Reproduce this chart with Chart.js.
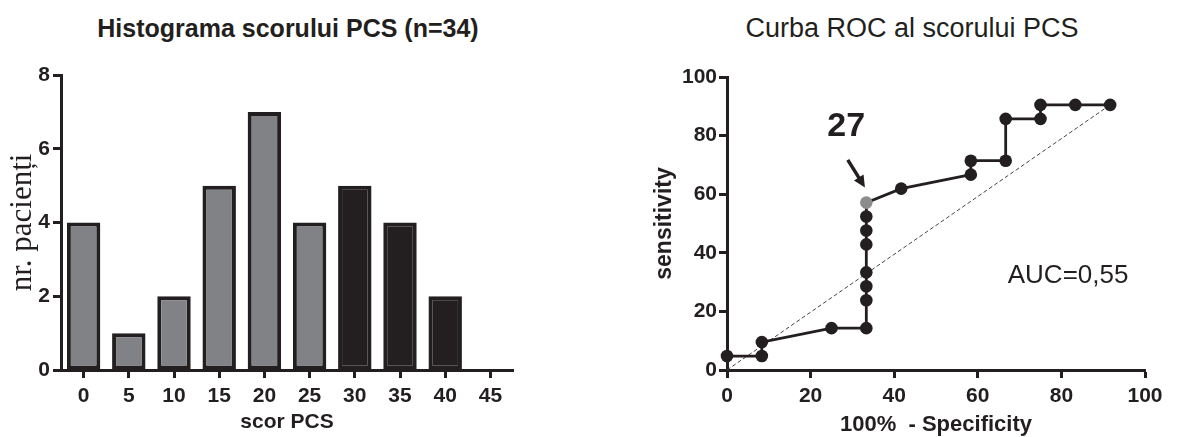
<!DOCTYPE html>
<html><head><meta charset="utf-8">
<script src="https://cdn.jsdelivr.net/npm/chart.js@4"></script>
<style>
html,body{margin:0;padding:0;background:#fff;width:1186px;height:437px;overflow:hidden;position:relative;font-family:'Liberation Sans',Arial,sans-serif;}
.ttl{position:absolute;top:0;height:56px;line-height:56px;color:#231f20;white-space:nowrap;transform:translateX(-50%);}
#t1{left:288px;font-weight:bold;font-size:25px;}
#t2{left:912px;font-size:27px;}
#c1{position:absolute;left:0;top:0;}
#c2{position:absolute;left:600px;top:0;}
</style></head>
<body>
<div class="ttl" id="t1">Histograma scorului PCS (n=34)</div>
<div class="ttl" id="t2">Curba ROC al scorului PCS</div>
<canvas id="c1" width="580" height="437"></canvas>
<canvas id="c2" width="586" height="437"></canvas>
<script>
// ---- data ----
const histCategories = ['0','5','10','15','20','25','30','35','40','45'];
const histCounts = [4, 1, 2, 5, 7, 4, 5, 4, 2, 0];
const histGroup = ['low','low','low','low','low','low','high','high','high','high'];
const histYTicks = [0, 2, 4, 6, 8];

const rocX = [0, 8.33, 8.33, 25, 33.33, 33.33, 33.33, 33.33, 33.33, 33.33, 33.33, 33.33, 41.67, 58.33, 58.33, 66.67, 66.67, 75, 75, 83.33, 91.67];
const rocY = [4.76, 4.76, 9.52, 14.29, 14.29, 23.81, 28.57, 33.33, 42.86, 47.62, 52.38, 57.14, 61.9, 66.67, 71.43, 71.43, 85.71, 85.71, 90.48, 90.48, 90.48];
const rocCutoffIndex = 11;
const diagX = [0, 91.67];
const diagY = [0, 90.48];
const rocTicks = [0, 20, 40, 60, 80, 100];

const label27 = {text: '27', x: 28.5, y: 83.1};
const arrowFrom = {x: 28.9, y: 71.7};
const arrowTo = {x: 33.0, y: 62.3};
const aucLabel = {text: 'AUC=0,55', x: 81.6, y: 32.1};

// ---- styles ----
const INK = '#231f20';
const GREY = '#808285';
const FONT = "'Liberation Sans', Arial, sans-serif";
const tickFont = {family: FONT, size: 21, weight: 'bold'};
const axisGrid = {drawOnChartArea: false, drawTicks: true, tickLength: 8, tickWidth: 3, tickColor: INK};
const axisBorder = {display: true, width: 3, color: INK};

// ---- histogram ----
new Chart(document.getElementById('c1'), {
  type: 'bar',
  data: {
    labels: histCategories,
    datasets: [{
      data: histCounts,
      backgroundColor: histGroup.map(g => g === 'high' ? INK : GREY),
      borderColor: INK,
      borderWidth: 4,
      borderSkipped: false,
      categoryPercentage: 1,
      barPercentage: 0.74
    }]
  },
  options: {
    responsive: false,
    animation: false,
    events: [],
    layout: {padding: {top: 75, right: 67, bottom: 0, left: 0}},
    plugins: {legend: {display: false}, tooltip: {enabled: false}, title: {display: false}},
    scales: {
      x: {
        grid: Object.assign({offset: false}, axisGrid),
        border: axisBorder,
        ticks: {font: tickFont, color: INK, padding: 6, maxRotation: 0, autoSkip: false},
        title: {display: true, text: 'scor PCS', color: INK, font: {family: FONT, size: 21, weight: 'bold', lineHeight: 1.2}, padding: {top: 0, bottom: 2}},
        afterFit: s => { s.height = 67; }
      },
      y: {
        min: 0, max: 8,
        grid: axisGrid,
        border: axisBorder,
        ticks: {font: tickFont, color: INK, padding: 3},
        afterBuildTicks: s => { s.ticks = histYTicks.map(v => ({value: v})); },
        title: {display: true, text: 'nr. pacienți', color: INK, font: {family: "'Liberation Serif', 'Times New Roman', serif", size: 31, weight: 'normal', lineHeight: 1.2}, padding: {top: 4, bottom: 0}},
        afterFit: s => { s.width = 61; }
      }
    }
  }
});

// ---- ROC ----
const rocAnnotations = {
  id: 'rocAnnotations',
  afterDatasetsDraw(chart) {
    const {ctx, scales: {x, y}} = chart;
    ctx.save();
    ctx.fillStyle = INK;
    ctx.textAlign = 'center';
    ctx.textBaseline = 'middle';
    ctx.font = "bold 34px " + FONT;
    ctx.fillText(label27.text, x.getPixelForValue(label27.x), y.getPixelForValue(label27.y));
    ctx.font = "26px " + FONT;
    ctx.fillText(aucLabel.text, x.getPixelForValue(aucLabel.x), y.getPixelForValue(aucLabel.y));
    // arrow
    const x0 = x.getPixelForValue(arrowFrom.x), y0 = y.getPixelForValue(arrowFrom.y);
    const x1 = x.getPixelForValue(arrowTo.x), y1 = y.getPixelForValue(arrowTo.y);
    const ang = Math.atan2(y1 - y0, x1 - x0);
    const head = 13;
    ctx.strokeStyle = INK;
    ctx.lineWidth = 3.5;
    ctx.beginPath();
    ctx.moveTo(x0, y0);
    ctx.lineTo(x1 - Math.cos(ang) * head * 0.8, y1 - Math.sin(ang) * head * 0.8);
    ctx.stroke();
    ctx.beginPath();
    ctx.moveTo(x1, y1);
    ctx.lineTo(x1 - head * Math.cos(ang - 0.45), y1 - head * Math.sin(ang - 0.45));
    ctx.lineTo(x1 - head * Math.cos(ang + 0.45), y1 - head * Math.sin(ang + 0.45));
    ctx.closePath();
    ctx.fill();
    ctx.restore();
  }
};

new Chart(document.getElementById('c2'), {
  type: 'scatter',
  data: {
    datasets: [
      {
        data: rocX.map((v, i) => ({x: v, y: rocY[i]})),
        showLine: true,
        borderColor: INK,
        borderWidth: 2.8,
        pointRadius: 6.3,
        pointBorderWidth: 0,
        pointBackgroundColor: rocX.map((v, i) => i === rocCutoffIndex ? '#8c8c8c' : INK),
        clip: false,
        order: 1
      },
      {
        data: diagX.map((v, i) => ({x: v, y: diagY[i]})),
        showLine: true,
        borderColor: '#444',
        borderWidth: 1,
        borderDash: [4, 2.5],
        pointRadius: 0,
        clip: false,
        order: 2
      }
    ]
  },
  options: {
    responsive: false,
    animation: false,
    events: [],
    layout: {padding: {top: 77, right: 41, bottom: 0, left: 0}},
    plugins: {legend: {display: false}, tooltip: {enabled: false}, title: {display: false}},
    scales: {
      x: {
        type: 'linear', min: 0, max: 100,
        grid: axisGrid,
        border: axisBorder,
        ticks: {font: tickFont, color: INK, padding: 6, maxRotation: 0},
        afterBuildTicks: s => { s.ticks = rocTicks.map(v => ({value: v})); },
        title: {display: true, text: '100%  - Specificity', color: INK, font: {family: FONT, size: 22, weight: 'bold', lineHeight: 1.1}, padding: {top: 0, bottom: 0}},
        afterFit: s => { s.height = 67; }
      },
      y: {
        type: 'linear', min: 0, max: 100,
        grid: axisGrid,
        border: axisBorder,
        ticks: {font: tickFont, color: INK, padding: 2},
        afterBuildTicks: s => { s.ticks = rocTicks.map(v => ({value: v})); },
        title: {display: true, text: 'sensitivity', color: INK, font: {family: FONT, size: 23, weight: 'bold', lineHeight: 1.2}, padding: {top: 51, bottom: 0}},
        afterFit: s => { s.width = 127; }
      }
    }
  },
  plugins: [rocAnnotations]
});
</script>
</body></html>
